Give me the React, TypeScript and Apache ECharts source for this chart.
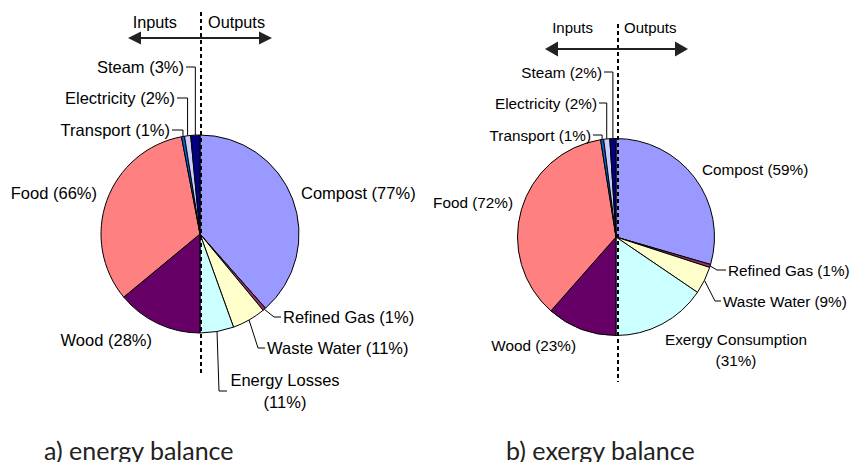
import React, { useEffect, useRef } from 'react';
import * as echarts from 'echarts';

// ---------------- data ----------------
const inputNames = ['Wood', 'Food', 'Transport', 'Electricity', 'Steam'];

const energyOutputNames = ['Compost', 'Refined Gas', 'Waste Water', 'Energy Losses'];
const energyOutputValues = [77, 1, 11, 11];
const energyInputValues = [28, 66, 1, 2, 3];

const exergyOutputNames = ['Compost', 'Refined Gas', 'Waste Water', 'Exergy Consumption'];
const exergyOutputValues = [59, 1, 9, 31];
const exergyInputValues = [23, 72, 1, 2, 2];

const titles = ['a) energy balance', 'b) exergy balance'];
const directionLabels = ['Inputs', 'Outputs'];
const twoLineLabels = ['Energy Losses', 'Exergy Consumption'];

// ---------------- styles / layout ----------------
const sliceColors: Record<string, string> = {
  Compost: '#9999FF',
  'Refined Gas': '#993366',
  'Waste Water': '#FFFFCC',
  'Energy Losses': '#CCFFFF',
  'Exergy Consumption': '#CCFFFF',
  Wood: '#660066',
  Food: '#FF8080',
  Transport: '#0066CC',
  Electricity: '#CCCCFF',
  Steam: '#000080',
};

type LabelPos = {
  x: number;
  y: number;
  align: 'left' | 'right' | 'center';
  leader?: boolean;
  kneeX?: number;
  endX?: number;
};

const energyLabelPos: Record<string, LabelPos> = {
  Compost: { x: 301, y: 193, align: 'left' },
  'Refined Gas': { x: 283, y: 317, align: 'left', leader: true, kneeX: 274, endX: 281 },
  'Waste Water': { x: 267, y: 348, align: 'left', leader: true, kneeX: 258, endX: 265 },
  'Energy Losses': { x: 285, y: 391, align: 'center', leader: true, kneeX: 219, endX: 227 },
  Wood: { x: 152, y: 340, align: 'right' },
  Food: { x: 97, y: 193, align: 'right' },
  Transport: { x: 170, y: 130, align: 'right', leader: true, endX: 172 },
  Electricity: { x: 175, y: 98, align: 'right', leader: true, endX: 177 },
  Steam: { x: 184, y: 67, align: 'right', leader: true, endX: 186 },
};

const exergyLabelPos: Record<string, LabelPos> = {
  Compost: { x: 702, y: 169, align: 'left' },
  'Refined Gas': { x: 728, y: 270, align: 'left', leader: true, kneeX: 717, endX: 726 },
  'Waste Water': { x: 723, y: 301, align: 'left', leader: true, kneeX: 715, endX: 721 },
  'Exergy Consumption': { x: 736, y: 350, align: 'center' },
  Wood: { x: 576, y: 345, align: 'right' },
  Food: { x: 513, y: 202, align: 'right' },
  Transport: { x: 591, y: 135, align: 'right', leader: true, endX: 593 },
  Electricity: { x: 597, y: 103, align: 'right', leader: true, endX: 599 },
  Steam: { x: 602, y: 72, align: 'right', leader: true, endX: 604 },
};

const LABEL_FONT = '"Liberation Sans", Arial, sans-serif';
const TITLE_FONT = 'Lato, "Open Sans", sans-serif';

function buildPie(
  center: number[],
  radius: number,
  outNames: string[],
  outValues: number[],
  inValues: number[],
  posMap: Record<string, LabelPos>,
  fontSize: number,
  lineHeight: number
) {
  const names = [...outNames, ...inputNames];
  const values = [...outValues, ...inValues];
  const data = names.map((n, i) => ({
    name: n,
    value: values[i],
    itemStyle: { color: sliceColors[n] },
    labelLine: { show: !!posMap[n].leader },
  }));
  return {
    type: 'pie',
    center,
    radius,
    startAngle: 90,
    clockwise: true,
    avoidLabelOverlap: false,
    silent: true,
    itemStyle: { borderColor: '#000', borderWidth: 1 },
    label: {
      show: true,
      position: 'outside',
      color: '#000',
      fontFamily: LABEL_FONT,
      fontSize,
      lineHeight,
      formatter: (p: any) =>
        twoLineLabels.includes(p.name) ? `${p.name}\n(${p.value}%)` : `${p.name} (${p.value}%)`,
    },
    labelLine: {
      show: true,
      length: 6,
      length2: 6,
      smooth: false,
      lineStyle: { color: '#000', width: 1 },
    },
    labelLayout: (params: any) => {
      const name = names[params.dataIndex];
      const pos = posMap[name];
      const out: any = { x: pos.x, y: pos.y, align: pos.align, verticalAlign: 'middle' };
      if (pos.leader && params.labelLinePoints && params.labelLinePoints[0]) {
        const p0 = params.labelLinePoints[0];
        const kx = pos.kneeX !== undefined ? pos.kneeX : p0[0];
        out.labelLinePoints = [
          [p0[0], p0[1]],
          [kx, pos.y],
          [pos.endX, pos.y],
        ];
      }
      return out;
    },
    data,
  };
}

function arrow(y: number, x1: number, x2: number, head: number, half: number) {
  const c = '#222';
  return [
    {
      type: 'line',
      z: 100,
      shape: { x1: x1 + head - 1, y1: y, x2: x2 - head + 1, y2: y },
      style: { stroke: c, lineWidth: 2 },
    },
    {
      type: 'polygon',
      z: 100,
      shape: { points: [[x1, y], [x1 + head, y - half], [x1 + head, y + half]] },
      style: { fill: c },
    },
    {
      type: 'polygon',
      z: 100,
      shape: { points: [[x2, y], [x2 - head, y - half], [x2 - head, y + half]] },
      style: { fill: c },
    },
  ];
}

function dashed(x: number, y1: number, y2: number) {
  return {
    type: 'line',
    z: 100,
    shape: { x1: x, y1, x2: x, y2 },
    style: { stroke: '#000', lineWidth: 2, lineDash: [4, 3] },
  };
}

function dirText(text: string, x: number, y: number, align: string, size: number) {
  return {
    type: 'text',
    z: 100,
    x,
    y,
    style: {
      text,
      fill: '#000',
      font: `${size}px ${LABEL_FONT}`,
      align,
      verticalAlign: 'middle',
    },
  };
}

function titleText(text: string, x: number, y: number) {
  return {
    type: 'text',
    z: 100,
    x,
    y,
    style: {
      text,
      fill: '#222',
      font: `25px ${TITLE_FONT}`,
      align: 'left',
      verticalAlign: 'middle',
    },
  };
}

export default function App() {
  const ref = useRef<HTMLDivElement>(null);

  useEffect(() => {
    if (!ref.current) return;
    const chart = echarts.init(ref.current, undefined, { renderer: 'svg' });
    const option: any = {
      animation: false,
      backgroundColor: '#fff',
      series: [
        buildPie([200, 234], 99, energyOutputNames, energyOutputValues, energyInputValues, energyLabelPos, 16.5, 22),
        buildPie([616, 237], 98.5, exergyOutputNames, exergyOutputValues, exergyInputValues, exergyLabelPos, 15.3, 21),
      ],
      graphic: [
        dashed(201, 12, 376),
        dashed(618, 24, 382),
        ...arrow(38, 128, 272, 13, 6.5),
        ...arrow(49, 545, 688, 13, 7.5),
        dirText(directionLabels[0], 177, 22, 'right', 16.3),
        dirText(directionLabels[1], 208, 22, 'left', 16.3),
        dirText(directionLabels[0], 593, 27, 'right', 15),
        dirText(directionLabels[1], 624, 27, 'left', 15),
        titleText(titles[0], 44, 450),
        titleText(titles[1], 506, 450),
      ],
    };
    chart.setOption(option);
    return () => chart.dispose();
  }, []);

  return (
    <div
      ref={ref}
      style={{ position: 'fixed', left: 0, top: 0, width: 852, height: 462 }}
    />
  );
}
